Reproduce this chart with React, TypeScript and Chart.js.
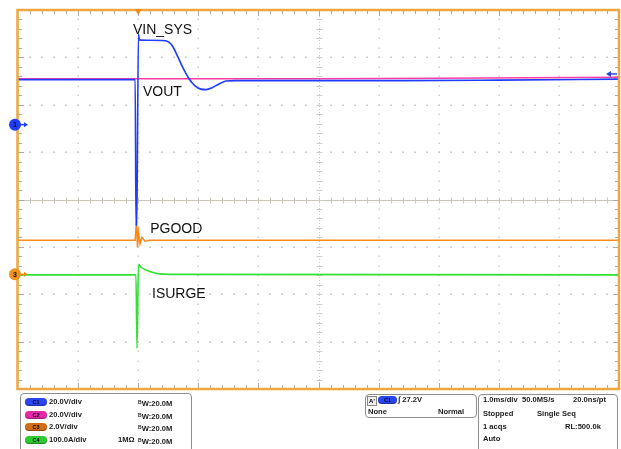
import React, { useEffect, useRef } from 'react';
import { Chart, registerables } from 'chart.js';

Chart.register(...registerables);

// Time axis in ms (1.0 ms/div, trigger at 0), vertical axis in screen divisions
const timeMin = -2;
const timeMax = 8;
const divMin = -4;
const divMax = 4;

// C1 VIN_SYS (20 V/div) trace, in divisions
const vinSysTime = [-2.0, -1.0, -0.05, -0.037, -0.02, 0.005, 0.02, 0.2, 0.45, 0.51, 0.58, 0.66, 0.76, 0.845, 0.945, 1.045, 1.13, 1.23, 1.345, 1.46, 1.61, 2.7, 4.4, 6.0, 8.0];
const vinSysDiv = [2.53, 2.53, 2.53, -0.55, -0.02, 3.49, 3.37, 3.36, 3.35, 3.32, 3.22, 3.01, 2.74, 2.55, 2.4, 2.33, 2.32, 2.36, 2.44, 2.5, 2.51, 2.51, 2.51, 2.52, 2.54];

// C2 VOUT (20 V/div)
const voutTime = [-2.0, 0.0, 1.0, 3.0, 5.0, 8.0];
const voutDiv = [2.55, 2.55, 2.55, 2.55, 2.56, 2.58];

// C3 PGOOD (2 V/div)
const pgoodTime = [-2.0, -0.05, -0.028, -0.012, 0.005, 0.03, 0.063, 0.113, 0.196, 8.0];
const pgoodDiv = [-0.86, -0.86, -0.44, -1.0, -0.7, -0.93, -0.8, -0.88, -0.86, -0.86];

// C4 ISURGE (100 A/div)
const isurgeTime = [-2.0, -0.037, -0.02, 0.005, 0.047, 0.13, 0.23, 0.36, 0.53, 8.0];
const isurgeDiv = [-1.59, -1.59, -3.14, -1.37, -1.43, -1.49, -1.535, -1.57, -1.58, -1.59];

const traceNames = ['VIN_SYS', 'VOUT', 'PGOOD', 'ISURGE'];
const traceColors = ['#1f3cff', '#ff3da6', '#ff8a1c', '#33e033'];
const labelTime = [-0.087, 0.08, 0.2, 0.23];
const labelDiv = [3.5, 2.18, -0.7, -2.07];

const ch1GroundDiv = 1.58;
const ch3GroundDiv = -1.58;
const triggerLevelDiv = 2.65;
const triggerTime = 0;

const chRows = [
  { ch: 'C1', scale: '20.0V/div', imp: '', color: '#2a46f0' },
  { ch: 'C2', scale: '20.0V/div', imp: '', color: '#e42aa8' },
  { ch: 'C3', scale: '2.0V/div', imp: '', color: '#cf6e14' },
  { ch: 'C4', scale: '100.0A/div', imp: '1MΩ', color: '#2ccc2c' },
];

const toPts = (t: number[], v: number[]) => t.map((x, i) => ({ x, y: v[i] }));

const scopePlugin = {
  id: 'scope',
  beforeDatasetsDraw(chart: any) {
    const { ctx, chartArea: a, scales } = chart;
    const xs = scales.x;
    const ys = scales.y;
    const xc = (timeMin + timeMax) / 2;
    ctx.save();
    // dotted graticule
    ctx.fillStyle = '#cdcdcd';
    for (let t = timeMin + 1; t < timeMax; t++) {
      if (t === xc) continue;
      const px = Math.round(xs.getPixelForValue(t));
      for (let k = 1; k < (divMax - divMin) * 5; k++) {
        const py = Math.round(ys.getPixelForValue(divMin + k * 0.2));
        ctx.fillRect(px - 0.5, py - 0.5, 1.5, 1.5);
      }
    }
    for (let d = divMin + 1; d < divMax; d++) {
      if (d === 0) continue;
      const py = Math.round(ys.getPixelForValue(d));
      for (let k = 1; k < (timeMax - timeMin) * 5; k++) {
        const px = Math.round(xs.getPixelForValue(timeMin + k * 0.2));
        ctx.fillRect(px - 1, py - 0.5, 2, 1.5);
      }
    }
    // center horizontal line
    const cy = Math.round(ys.getPixelForValue(0)) + 0.5;
    ctx.strokeStyle = '#c9c5b9';
    ctx.lineWidth = 1;
    ctx.beginPath();
    ctx.moveTo(a.left, cy);
    ctx.lineTo(a.right, cy);
    for (let k = 1; k < (timeMax - timeMin) * 5; k++) {
      const px = Math.round(xs.getPixelForValue(timeMin + k * 0.2)) + 0.5;
      ctx.moveTo(px, cy - 3);
      ctx.lineTo(px, cy + 3);
    }
    ctx.stroke();
    // center vertical line
    const cx = Math.round(xs.getPixelForValue(xc)) + 0.5;
    ctx.strokeStyle = '#d0ccc2';
    ctx.setLineDash([1, 2]);
    ctx.beginPath();
    ctx.moveTo(cx, a.top);
    ctx.lineTo(cx, a.bottom);
    ctx.stroke();
    ctx.setLineDash([]);
    ctx.beginPath();
    for (let k = 1; k < (divMax - divMin) * 5; k++) {
      const py = Math.round(ys.getPixelForValue(divMin + k * 0.2)) + 0.5;
      ctx.moveTo(cx - 3, py);
      ctx.lineTo(cx + 3, py);
    }
    ctx.stroke();
    // edge ticks
    ctx.strokeStyle = '#a9a9a9';
    ctx.beginPath();
    for (let k = 1; k < (divMax - divMin) * 5; k++) {
      const py = Math.round(ys.getPixelForValue(divMin + k * 0.2)) + 0.5;
      const len = k % 5 === 0 ? 6 : 4;
      ctx.moveTo(a.left, py);
      ctx.lineTo(a.left + len, py);
      ctx.moveTo(a.right, py);
      ctx.lineTo(a.right - len, py);
    }
    for (let k = 1; k < (timeMax - timeMin) * 5; k++) {
      const px = Math.round(xs.getPixelForValue(timeMin + k * 0.2)) + 0.5;
      const len = k % 5 === 0 ? 6 : 4;
      ctx.moveTo(px, a.top);
      ctx.lineTo(px, a.top + len);
      ctx.moveTo(px, a.bottom);
      ctx.lineTo(px, a.bottom - len);
    }
    ctx.stroke();
    ctx.restore();
  },
  afterDatasetsDraw(chart: any) {
    const { ctx, chartArea: a, scales } = chart;
    const xs = scales.x;
    const ys = scales.y;
    ctx.save();
    // trace labels
    ctx.fillStyle = '#111';
    ctx.font = "14px 'Liberation Sans', Arial, sans-serif";
    ctx.textBaseline = 'alphabetic';
    traceNames.forEach((n, i) => {
      ctx.fillText(n, xs.getPixelForValue(labelTime[i]), ys.getPixelForValue(labelDiv[i]));
    });
    // orange frame
    ctx.strokeStyle = '#eea640';
    ctx.lineWidth = 2.5;
    ctx.strokeRect(a.left - 0.5, a.top, a.right - a.left + 0.5, a.bottom - a.top);
    // trigger position marker
    const tx = xs.getPixelForValue(triggerTime);
    ctx.fillStyle = '#f08a1e';
    ctx.beginPath();
    ctx.moveTo(tx - 3.5, a.top - 1);
    ctx.lineTo(tx + 3.5, a.top - 1);
    ctx.lineTo(tx, a.top + 5);
    ctx.closePath();
    ctx.fill();
    // trigger level marker (right)
    const ly = ys.getPixelForValue(triggerLevelDiv);
    ctx.strokeStyle = '#2a46f0';
    ctx.fillStyle = '#2a46f0';
    ctx.lineWidth = 1.5;
    ctx.beginPath();
    ctx.moveTo(a.right - 2, ly);
    ctx.lineTo(a.right - 10, ly);
    ctx.stroke();
    ctx.beginPath();
    ctx.moveTo(a.right - 13, ly);
    ctx.lineTo(a.right - 8, ly - 3);
    ctx.lineTo(a.right - 8, ly + 3);
    ctx.closePath();
    ctx.fill();
    // ground markers (left)
    const drawMarker = (d: number, color: string, label: string) => {
      const y = ys.getPixelForValue(d);
      const x = a.left - 3;
      ctx.fillStyle = color;
      ctx.strokeStyle = color;
      ctx.lineWidth = 1.5;
      ctx.beginPath();
      ctx.moveTo(x, y);
      ctx.lineTo(x + 11, y);
      ctx.stroke();
      ctx.beginPath();
      ctx.moveTo(x + 13, y);
      ctx.lineTo(x + 9, y - 2.5);
      ctx.lineTo(x + 9, y + 2.5);
      ctx.closePath();
      ctx.fill();
      ctx.beginPath();
      ctx.arc(x, y, 6, 0, Math.PI * 2);
      ctx.fill();
      ctx.fillStyle = '#111';
      ctx.font = "bold 7px 'Liberation Sans', Arial, sans-serif";
      ctx.textAlign = 'center';
      ctx.textBaseline = 'middle';
      ctx.fillText(label, x, y + 0.5);
      ctx.textAlign = 'left';
    };
    drawMarker(ch1GroundDiv, '#1f3cff', '1');
    drawMarker(ch3GroundDiv, '#f0921e', '3');
    ctx.restore();
  },
};

const font = "'Liberation Sans', Arial, sans-serif";
const txt: React.CSSProperties = {
  position: 'absolute',
  font: `bold 7.6px ${font}`,
  color: '#1b1b1b',
  lineHeight: '10px',
  whiteSpace: 'nowrap',
};

function Pill({ left, top, color, label, w = 22 }: { left: number; top: number; color: string; label: string; w?: number }) {
  return (
    <div
      style={{
        position: 'absolute',
        left,
        top,
        width: w,
        height: 8,
        borderRadius: 4,
        background: color,
        font: `bold 5.5px ${font}`,
        color: '#102',
        textAlign: 'center',
        lineHeight: '8px',
        boxShadow: 'inset 0 -1px 1px rgba(0,0,0,0.35)',
      }}
    >
      {label}
    </div>
  );
}

function InfoPanel() {
  const rowY = [402, 414.5, 427, 439.5];
  return (
    <>
      <div style={{ position: 'absolute', left: 20, top: 393, width: 170, height: 62, border: '1px solid #8d8d8d', borderRadius: 4 }} />
      {chRows.map((r, i) => (
        <React.Fragment key={r.ch}>
          <Pill left={25} top={rowY[i] - 4} color={r.color} label={r.ch} />
          <div style={{ ...txt, left: 49, top: rowY[i] - 5 }}>{r.scale}</div>
          {r.imp && <div style={{ ...txt, left: 118, top: rowY[i] - 5 }}>{r.imp}</div>}
          <div style={{ ...txt, left: 138, top: rowY[i] - 5 }}>
            <span style={{ fontSize: '5px', verticalAlign: '2px' }}>B</span>W:20.0M
          </div>
        </React.Fragment>
      ))}
      <div style={{ position: 'absolute', left: 365, top: 394, width: 110, height: 22, border: '1px solid #8d8d8d', borderRadius: 4 }} />
      <div style={{ position: 'absolute', left: 367, top: 396, width: 8, height: 8, border: '1px solid #888', background: '#eee', font: `bold 6px ${font}`, lineHeight: '8px', textAlign: 'center' }}>A'</div>
      <Pill left={378} top={396} color="#2a46f0" label="C1" w={19} />
      <div style={{ ...txt, left: 398, top: 395 }}>∫ 27.2V</div>
      <div style={{ ...txt, left: 368, top: 407 }}>None</div>
      <div style={{ ...txt, left: 438, top: 407 }}>Normal</div>
      <div style={{ position: 'absolute', left: 478, top: 394, width: 138, height: 62, border: '1px solid #8d8d8d', borderRadius: 4 }} />
      <div style={{ ...txt, left: 483, top: 395 }}>1.0ms/div</div>
      <div style={{ ...txt, left: 522, top: 395 }}>50.0MS/s</div>
      <div style={{ ...txt, left: 573, top: 395 }}>20.0ns/pt</div>
      <div style={{ ...txt, left: 483, top: 409 }}>Stopped</div>
      <div style={{ ...txt, left: 537, top: 409 }}>Single Seq</div>
      <div style={{ ...txt, left: 483, top: 422 }}>1 acqs</div>
      <div style={{ ...txt, left: 565, top: 422 }}>RL:500.0k</div>
      <div style={{ ...txt, left: 483, top: 434 }}>Auto</div>
    </>
  );
}

export default function App() {
  const ref = useRef<HTMLCanvasElement>(null);
  useEffect(() => {
    if (!ref.current) return;
    const chart = new Chart(ref.current, {
      type: 'line',
      data: {
        datasets: [
          { label: traceNames[0], data: toPts(vinSysTime, vinSysDiv), borderColor: traceColors[0], borderWidth: 1.6, pointRadius: 0, cubicInterpolationMode: 'monotone' },
          { label: traceNames[1], data: toPts(voutTime, voutDiv), borderColor: traceColors[1], borderWidth: 1.6, pointRadius: 0 },
          { label: traceNames[2], data: toPts(pgoodTime, pgoodDiv), borderColor: traceColors[2], borderWidth: 1.6, pointRadius: 0 },
          { label: traceNames[3], data: toPts(isurgeTime, isurgeDiv), borderColor: traceColors[3], borderWidth: 1.6, pointRadius: 0, cubicInterpolationMode: 'monotone' },
        ],
      },
      options: {
        animation: false,
        responsive: false,
        maintainAspectRatio: false,
        layout: { padding: { left: 18, top: 10, right: 2, bottom: 60 } },
        plugins: { legend: { display: false }, tooltip: { enabled: false } },
        scales: {
          x: { type: 'linear', min: timeMin, max: timeMax, display: false },
          y: { type: 'linear', min: divMin, max: divMax, display: false },
        },
      },
      plugins: [scopePlugin],
    } as any);
    return () => chart.destroy();
  }, []);
  return (
    <div style={{ position: 'fixed', left: 0, top: 0, width: 621, height: 449, background: '#fff', overflow: 'hidden' }}>
      <canvas ref={ref} width={621} height={449} style={{ position: 'absolute', left: 0, top: 0, width: 621, height: 449 }} />
      <InfoPanel />
    </div>
  );
}
